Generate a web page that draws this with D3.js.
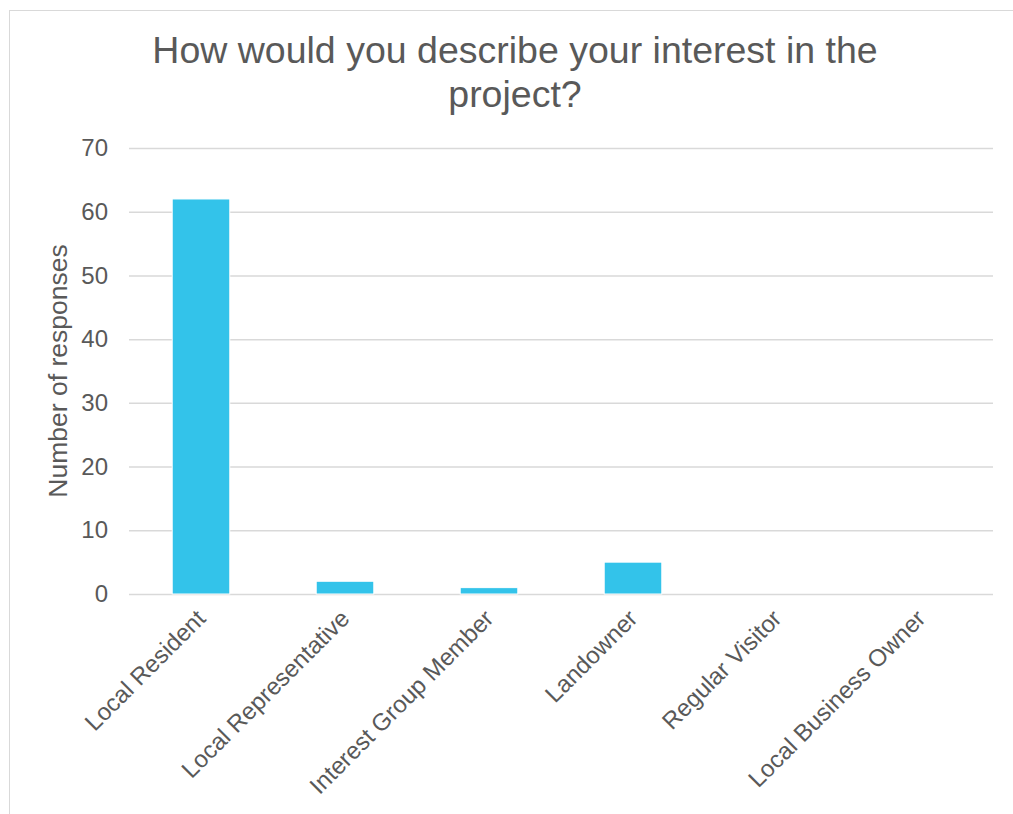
<!DOCTYPE html>
<html>
<head>
<meta charset="utf-8">
<script src="https://cdn.jsdelivr.net/npm/d3@7"></script>
<style>
  body { margin: 0; background: #fff; }
  svg text { font-family: "Liberation Sans", Arial, sans-serif; fill: #595959; }
</style>
</head>
<body>
<svg id="chart"></svg>
<script>
// chart data
const categories = ['Local Resident', 'Local Representative', 'Interest Group Member',
  'Landowner', 'Regular Visitor', 'Local Business Owner'];
const responses = [62, 2, 1, 5, 0, 0];
const yTicks = [0, 10, 20, 30, 40, 50, 60, 70];
const titleLines = ['How would you describe your interest in the', 'project?'];
const yTitle = 'Number of responses';

const width = 1013, height = 814;
const margin = {top: 148, right: 20, bottom: 220, left: 129};

const svg = d3.select('#chart')
    .attr('width', width)
    .attr('height', height);

// outer frame (cut off at right and bottom like the reference)
svg.append('rect')
    .attr('x', 9.5).attr('y', 10.5)
    .attr('width', 1012).attr('height', 812)
    .attr('fill', '#fff')
    .attr('stroke', '#d9d9d9')
    .attr('stroke-width', 1);

const plotW = 993 - margin.left;
const plotH = 594 - margin.top;

const chart = svg.append('g')
    .attr('transform', `translate(${margin.left},${margin.top})`);

const xScale = d3.scaleBand()
    .domain(categories)
    .range([0, plotW])
    .paddingInner(0.6)
    .paddingOuter(0.3);

const yScale = d3.scaleLinear()
    .domain([0, 70])
    .range([plotH, 0]);

// gridlines + y tick labels
const yAxis = d3.axisLeft(yScale)
    .tickValues(yTicks)
    .tickSize(-plotW)
    .tickPadding(21);

chart.append('g')
    .attr('class', 'y-axis')
    .call(yAxis)
    .call(g => g.select('.domain').remove())
    .call(g => g.selectAll('line')
        .attr('stroke', '#d9d9d9')
        .attr('stroke-width', 1.5))
    .call(g => g.selectAll('text')
        .style('font-size', '24px')
        .attr('fill', '#595959'));

// bars
chart.selectAll('.bar')
    .data(responses)
    .join('rect')
    .attr('class', 'bar')
    .attr('x', (d, i) => xScale(categories[i]))
    .attr('width', xScale.bandwidth())
    .attr('y', d => yScale(d))
    .attr('height', d => plotH - yScale(d))
    .attr('fill', '#33c3ea')
    .attr('stroke', '#ffffff')
    .attr('stroke-width', 1);

// category labels, rotated
const xAxis = d3.axisBottom(xScale)
    .tickSize(0)
    .tickPadding(0);

chart.append('g')
    .attr('class', 'x-axis')
    .attr('transform', `translate(0,${plotH})`)
    .call(xAxis)
    .call(g => g.select('.domain').remove())
    .call(g => g.selectAll('text')
        .style('font-size', '24px')
        .attr('fill', '#595959')
        .attr('text-anchor', 'end')
        .attr('dy', null)
        .attr('y', 0)
        .attr('transform', 'translate(6,26) rotate(-45)'));

// title
svg.append('text')
    .attr('x', 515)
    .attr('y', 63)
    .attr('text-anchor', 'middle')
    .style('font-size', '37.5px')
    .selectAll('tspan')
    .data(titleLines)
    .join('tspan')
    .attr('x', 515)
    .attr('dy', (d, i) => i === 0 ? 0 : 44)
    .text(d => d);

// y axis title
svg.append('text')
    .attr('transform', `translate(67,${margin.top + plotH / 2}) rotate(-90)`)
    .attr('text-anchor', 'middle')
    .style('font-size', '26.5px')
    .text(yTitle);
</script>
</body>
</html>
